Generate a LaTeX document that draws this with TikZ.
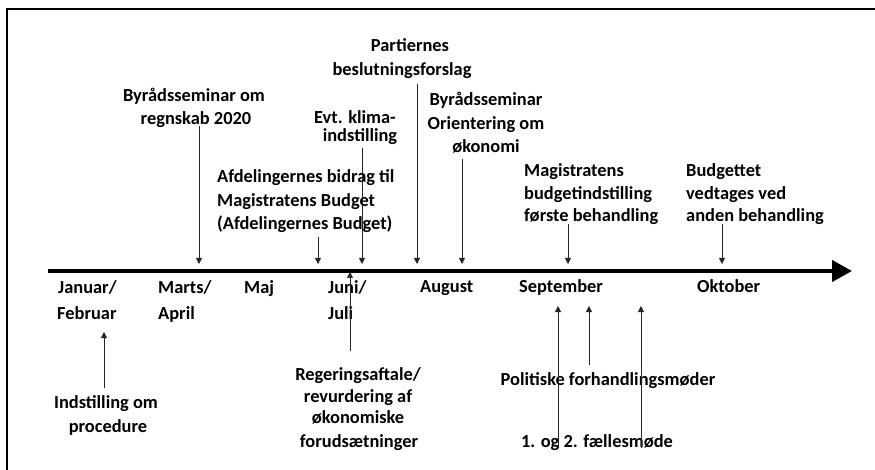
\documentclass[tikz,border=0pt]{standalone}
\usepackage{fontspec}
\setmainfont{Carlito}
\usetikzlibrary{arrows.meta}
\begin{document}
\begin{tikzpicture}[x=1pt,y=-1pt,
  lbl/.style={font=\fontsize{18.4}{23}\selectfont\bfseries, inner sep=0pt, anchor=base},
  lblw/.style={lbl, anchor=base west},
  thin arrow/.style={draw=black!85, line width=0.9pt, -{Triangle[length=6pt,width=6pt]}},
  frameline/.style={draw=black, line width=2.6pt},
  axis/.style={draw=black, line width=4.2pt, -{Triangle[length=20pt,width=21pt]}}]
\useasboundingbox (0,0) rectangle (875,470);
\fill[white] (0,0) rectangle (875,470);
% frame (cropped)
\coordinate (fbl) at (7,472);
\coordinate (ftl) at (7,9);
\coordinate (ftr) at (877,9);
\draw[frameline] (fbl) -- (ftl) -- (ftr);
% timeline
\coordinate (tl0) at (48,271);
\coordinate (tl1) at (852,271);
\draw[axis] (tl0) -- (tl1);
% months
\node[lblw] (jan1) at (58,294) {Januar/};
\node[lblw] (jan2) at (57,319) {Februar};
\node[lblw] (mar1) at (158,294) {Marts/};
\node[lblw] (mar2) at (158,319) {April};
\node[lblw] (maj) at (244,294) {Maj};
\node[lblw] (jun1) at (328,294) {Juni/};
\node[lblw] (jun2) at (328,319) {Juli};
\node[lblw] (aug) at (420,293) {August};
\node[lblw] (sep) at (519,293) {September};
\node[lblw] (okt) at (697,293) {Oktober};
% labels above
\node[lbl] (byr1) at (194,102) {Byrådsseminar om};
\node[lbl] (byr2) at (196,125) {regnskab 2020};
\node[lbl] (kli1) at (355,124) {Evt. klima-};
\node[lbl] (kli2) at (360,142) {indstilling};
\node[lbl] (par1) at (410,52) {Partiernes};
\node[lbl] (par2) at (402,76) {beslutningsforslag};
\node[lbl] (ori1) at (486,106) {Byrådsseminar};
\node[lbl] (ori2) at (486,130) {Orientering om};
\node[lbl] (ori3) at (486,153) {økonomi};
\node[lblw] (afd1) at (217,183) {Afdelingernes bidrag til};
\node[lblw] (afd2) at (217,207) {Magistratens Budget};
\node[lblw] (afd3) at (217,230) {(Afdelingernes Budget)};
\node[lblw] (mag1) at (524,177) {Magistratens};
\node[lblw] (mag2) at (524,200) {budgetindstilling};
\node[lblw] (mag3) at (524,222) {første behandling};
\node[lblw] (bud1) at (686,177) {Budgettet};
\node[lblw] (bud2) at (686,200) {vedtages ved};
\node[lblw] (bud3) at (686,222) {anden behandling};
% labels below
\node[lbl] (ind1) at (106,408) {Indstilling om};
\node[lbl] (ind2) at (108,432) {procedure};
\node[lbl] (reg1) at (358,380) {Regeringsaftale/};
\node[lbl] (reg2) at (358,402) {revurdering af};
\node[lbl] (reg3) at (358,423) {økonomiske};
\node[lbl] (reg4) at (359,447) {forudsætninger};
\node[lbl] (pol) at (608,385) {Politiske forhandlingsmøder};
\node[lbl] (fael) at (597,447) {1. og 2. fællesmøde};
% arrow end points
\coordinate (s1) at (199,126); \coordinate (e1) at (199,264);
\coordinate (s2) at (318,237); \coordinate (e2) at (318,264);
\coordinate (s3) at (362,148); \coordinate (e3) at (362,264);
\coordinate (s4) at (417,84);  \coordinate (e4) at (417,264);
\coordinate (s5) at (462,159); \coordinate (e5) at (462,264);
\coordinate (s6) at (568,224); \coordinate (e6) at (568,264);
\coordinate (s7) at (722,224); \coordinate (e7) at (722,264);
\coordinate (u1s) at (104,388); \coordinate (u1e) at (104,332);
\coordinate (u2s) at (350,351); \coordinate (u2e) at (350,272);
\coordinate (u3s) at (558,448); \coordinate (u3e) at (558,306);
\coordinate (u4s) at (641,448); \coordinate (u4e) at (641,306);
\coordinate (u5s) at (589,365); \coordinate (u5e) at (589,306);
\foreach \a/\b in {s1/e1,s2/e2,s3/e3,s4/e4,s5/e5,s6/e6,s7/e7,u1s/u1e,u2s/u2e,u3s/u3e,u4s/u4e,u5s/u5e}
  \draw[thin arrow] (\a) -- (\b);
\end{tikzpicture}
\end{document}
